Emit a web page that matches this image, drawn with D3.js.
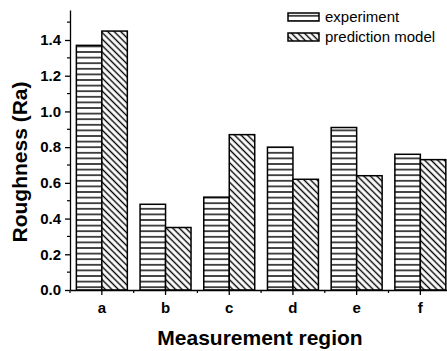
<!DOCTYPE html>
<html>
<head>
<meta charset="utf-8">
<script src="https://cdn.jsdelivr.net/npm/d3@7"></script>
<style>
body { margin: 0; background: #fff; }
svg { font-family: "Liberation Sans", Arial, sans-serif; }
</style>
</head>
<body>
<svg width="447" height="351"></svg>
<script>
var regions = ["a", "b", "c", "d", "e", "f"];
var experiment = [1.37, 0.48, 0.52, 0.80, 0.91, 0.76];
var prediction = [1.45, 0.35, 0.87, 0.62, 0.64, 0.73];
var yTicks = [0.0, 0.2, 0.4, 0.6, 0.8, 1.0, 1.2, 1.4];
var seriesNames = ["experiment", "prediction model"];

var svg = d3.select("svg"),
margin = {top: 10, right: -5, bottom: 61, left: 70},
width = +svg.attr("width") - margin.left - margin.right,
height = +svg.attr("height") - margin.top - margin.bottom,
g = svg.append("g").attr("transform", "translate(" + margin.left + "," + margin.top + ")");

// hatch patterns
var defs = svg.append("defs");
var hp = defs.append("pattern")
.attr("id", "hlines")
.attr("patternUnits", "userSpaceOnUse")
.attr("width", 8).attr("height", 5.6);
hp.append("rect").attr("width", 8).attr("height", 5.6).attr("fill", "#fff");
hp.append("line").attr("x1", 0).attr("x2", 8).attr("y1", 2.8).attr("y2", 2.8)
.attr("stroke", "#000").attr("stroke-width", 1.4);

var dp = defs.append("pattern")
.attr("id", "dlines")
.attr("patternUnits", "userSpaceOnUse")
.attr("width", 4.6).attr("height", 8)
.attr("patternTransform", "rotate(-45)");
dp.append("rect").attr("width", 4.6).attr("height", 8).attr("fill", "#fff");
dp.append("line").attr("x1", 2.3).attr("x2", 2.3).attr("y1", 0).attr("y2", 8)
.attr("stroke", "#000").attr("stroke-width", 1.4);

var fills = ["url(#hlines)", "url(#dlines)"];

var x0 = d3.scaleBand()
.domain(regions)
.range([0, 63.7 * regions.length])
.paddingInner(0.2)
.paddingOuter(0.1);

var xs = d3.scaleBand()
.domain(regions)
.range([0, 63.7 * regions.length]);

var x1 = d3.scaleBand()
.domain([0, 1])
.range([0, x0.bandwidth()]);

var y = d3.scaleLinear()
.domain([0, 1.568])
.range([height, 0]);

var data = regions.map(function(r, i) {
  return {region: r, values: [experiment[i], prediction[i]]};
});

g.append("g")
.selectAll("g")
.data(data)
.enter().append("g")
.attr("transform", function(d) { return "translate(" + x0(d.region) + ",0)"; })
.selectAll("rect")
.data(function(d) { return d.values.map(function(v, k) { return {k: k, value: v}; }); })
.enter().append("rect")
.attr("x", function(d) { return x1(d.k); })
.attr("y", function(d) { return y(d.value); })
.attr("width", x1.bandwidth())
.attr("height", function(d) { return height - y(d.value); })
.attr("fill", function(d) { return fills[d.k]; })
.attr("stroke", "#000")
.attr("stroke-width", 1.5);

// y axis
var yAxis = g.append("g")
.call(d3.axisLeft(y).tickValues(yTicks).tickFormat(d3.format(".1f")).tickSize(5).tickSizeOuter(0));
yAxis.select(".domain").attr("stroke-width", 1.3);
yAxis.selectAll(".tick line").attr("stroke-width", 1.3);
yAxis.selectAll(".tick text").attr("font-size", 15).attr("font-weight", "bold")
.attr("font-family", "Liberation Sans, Arial, sans-serif").attr("x", -9);
yAxis.selectAll(".minor").data(d3.range(0.1, 1.56, 0.2))
.enter().append("line").attr("class", "minor")
.attr("x1", -3).attr("x2", 0)
.attr("y1", function(d) { return y(d); }).attr("y2", function(d) { return y(d); })
.attr("stroke", "#000").attr("stroke-width", 1.2);

// x axis
var xAxis = g.append("g")
.attr("transform", "translate(0," + height + ")")
.call(d3.axisBottom(xs).tickSize(5).tickSizeOuter(0));
xAxis.select(".domain").attr("stroke-width", 1.3);
xAxis.selectAll(".tick line").attr("stroke-width", 1.3);
xAxis.selectAll(".tick text").attr("font-size", 15).attr("font-weight", "bold")
.attr("font-family", "Liberation Sans, Arial, sans-serif").attr("y", 12);
xAxis.selectAll(".minor").data(regions)
.enter().append("line").attr("class", "minor")
.attr("x1", function(d) { return xs(d); }).attr("x2", function(d) { return xs(d); })
.attr("y1", 0).attr("y2", 3)
.attr("stroke", "#000").attr("stroke-width", 1.2);

// y-axis label
g.append("text")
.attr("transform", "rotate(-90)")
.attr("x", -152)
.attr("y", -43)
.attr("fill", "#000")
.attr("font-weight", "bold")
.attr("font-size", 21)
.attr("text-anchor", "middle")
.text("Roughness (Ra)");

// x-axis label
g.append("text")
.attr("x", 190)
.attr("y", height + 55)
.attr("fill", "#000")
.attr("font-weight", "bold")
.attr("font-size", 21)
.attr("text-anchor", "middle")
.text("Measurement region");

// legend
var legend = svg.append("g")
.attr("font-size", 15)
.selectAll("g")
.data(seriesNames)
.enter().append("g")
.attr("transform", function(d, i) { return "translate(288," + (13 + i * 20) + ")"; });

legend.append("rect")
.attr("width", 31)
.attr("height", 8)
.attr("fill", function(d, i) { return fills[i]; })
.attr("stroke", "#000")
.attr("stroke-width", 1.5);

legend.append("text")
.attr("x", 37)
.attr("y", 4)
.attr("dy", "0.35em")
.text(function(d) { return d; });
</script>
</body>
</html>
